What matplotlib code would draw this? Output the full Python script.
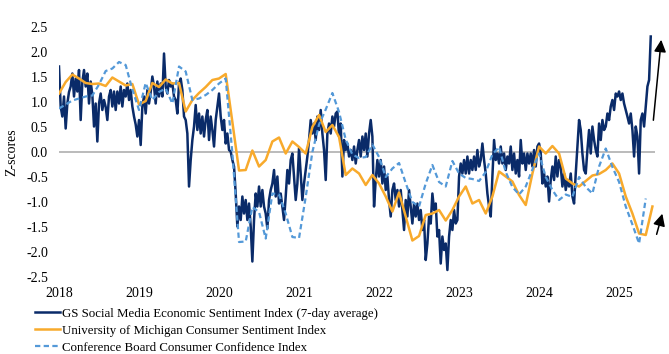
import numpy as np
import matplotlib
matplotlib.use("Agg")
import matplotlib.pyplot as plt

# GS social media index, read every quarter month from Jan 2018
gs_index = [
    1.71, 0.91, 0.71, 1.11, 0.47, 0.97, 1.20, 1.31, 1.57, 1.11, 1.47, 1.21,
    1.64, 0.64, 1.40, 1.64, 1.31, 1.57, 0.97, 1.41, 1.14, 0.51, 0.97, 0.21,
    0.97, 1.17, 0.84, 1.04, 0.90, 0.64, 1.11, 1.24, 0.91, 1.21, 0.84, 1.21,
    0.97, 1.31, 0.91, 1.24, 1.11, 1.37, 1.04, 1.24, 0.91, 0.71, 0.55, 0.31,
    0.64, 0.14, 0.91, 1.11, 0.77, 1.24, 0.97, 1.20, 1.51, 1.31, 0.97, 1.41,
    1.11, 1.37, 1.11, 1.97, 1.31, 1.17, 1.44, 1.31, 1.37, 1.11, 1.04, 0.77,
    1.37, 1.47, 1.24, 0.71, 0.64, 0.37, -0.69, -0.16, 0.24, 0.51, 0.94, 0.44,
    0.77, 0.37, 0.71, 0.31, 0.64, 0.84, 0.24, 0.71, 0.44, 0.11, 0.64, 0.91,
    1.17, 0.71, 0.44, 0.64, 0.17, 0.37, 0.04, 0.01, -0.16, -0.29, -0.83, -1.49,
    -1.09, -1.36, -0.89, -1.23, -0.96, -1.36, -1.03, -1.49, -2.19, -1.36, -0.83, -1.09,
    -0.69, -1.09, -0.76, -1.09, -1.23, -1.53, -0.96, -0.76, -0.63, -0.36, -0.89, -0.49,
    -1.03, -0.83, -1.09, -1.36, -0.89, -0.36, -0.63, -0.16, -0.03, -0.49, -0.96, -0.63,
    0.08, -0.43, -0.96, -0.63, -0.36, -0.09, 0.24, 0.64, 0.37, 0.57, 0.24, 0.71,
    0.44, 0.84, 0.37, 0.04, -0.56, 0.37, 0.57, 0.37, 0.71, 0.51, 0.77, 0.81,
    0.31, 0.57, -0.49, 0.24, 0.04, 0.17, -0.09, 0.04, -0.16, 0.11, -0.23, 0.04,
    0.24, -0.09, 0.31, 0.04, 0.37, -0.09, 0.37, 0.64, 0.31, -1.09, -0.56, -0.16,
    -0.49, -0.16, -0.63, -0.29, -0.76, -0.49, -0.96, -1.29, -0.76, -0.63, -0.96, -0.76,
    -1.09, -0.76, -1.16, -1.56, -0.96, -1.29, -0.76, -1.09, -1.43, -1.03, -1.29, -1.03,
    -1.36, -1.16, -1.56, -1.36, -2.16, -1.83, -1.29, -1.43, -0.83, -1.16, -1.03, -1.69,
    -1.56, -2.23, -1.69, -1.96, -1.83, -2.36, -1.69, -1.36, -1.56, -1.16, -1.43, -1.36,
    -0.49, -0.23, -0.43, -0.16, -0.43, -0.09, -0.43, -0.16, -0.36, -0.09, -0.36, 0.04,
    -0.29, -0.16, 0.17, -0.16, -0.43, -0.83, -1.09, -1.29, -0.49, 0.24, -0.16, -0.03,
    -0.23, 0.11, -0.23, -0.03, -0.36, -0.09, -0.23, 0.11, -0.36, -0.03, -0.43, -0.16,
    -0.49, 0.24, -0.23, -0.03, -0.36, -0.03, -0.23, -0.03, -0.29, 0.04, -0.29, 0.11,
    0.17, -0.03, -0.63, -0.43, -0.69, -0.49, -0.99, -0.56, -0.29, -0.56, -0.09, -0.49,
    -0.16, -0.29, -0.69, -0.43, -0.76, -0.56, -0.69, -0.43, -0.89, -1.03, -0.43, 0.11,
    0.64, 0.44, -0.03, -0.36, -0.43, 0.04, 0.44, -0.03, 0.51, 0.24, 0.04, -0.09,
    0.57, 0.24, 0.64, 0.44, 0.51, 0.77, 0.64, 0.91, 1.04, 0.84, 1.17, 1.11,
    1.21, 1.04, 1.17, 0.97, 0.84, 0.71, 0.57, 0.77, 0.44, -0.09, 0.51, 0.31,
    -0.43, 0.64, 0.77, 0.51, 0.91, 1.31, 1.44, 2.31,
]

# University of Michigan, monthly from Jan 2018
umich = [
    1.17, 1.40, 1.55, 1.47, 1.38, 1.36, 1.37, 1.32, 1.49, 1.41, 1.33, 1.36,
    0.95, 1.02, 1.38, 1.30, 1.45, 1.37, 1.38, 0.81, 1.04, 1.18, 1.30, 1.44,
    1.47, 1.56, 0.60, -0.37, -0.36, 0.03, -0.29, -0.16, 0.21, 0.29, -0.03, 0.21,
    0.10, -0.03, 0.50, 0.74, 0.40, 0.54, 0.30, -0.46, -0.33, -0.43, -0.66, -0.46,
    -0.63, -0.89, -1.19, -0.81, -1.29, -1.77, -1.68, -1.26, -1.23, -1.16, -1.37, -1.16,
    -0.89, -0.69, -1.03, -0.96, -1.23, -0.89, -0.39, -0.49, -0.59, -0.86, -1.06, -0.43,
    0.11, -0.03, 0.12, -0.03, -0.53, -0.63, -0.69, -0.58, -0.47, -0.44, -0.36, -0.23,
    -0.43, -0.89, -1.23, -1.63, -1.66, -1.09,
]

# Conference Board, monthly from Jan 2018
conf_board = [
    0.87, 0.95, 1.03, 1.07, 1.11, 1.13, 1.35, 1.62, 1.67, 1.80, 1.74, 1.25,
    0.84, 1.38, 1.04, 1.20, 1.27, 0.97, 1.71, 1.61, 1.04, 1.07, 1.14, 1.24,
    1.37, 1.47, -0.03, -1.80, -1.79, -1.10, -1.20, -1.73, -0.83, -0.85, -1.23, -1.70,
    -1.72, -0.90, 0.00, 0.55, 0.85, 1.18, 0.80, 0.25, -0.05, -0.12, -0.10, 0.15,
    -0.10, -0.50, -0.33, -0.22, -0.62, -1.00, -1.09, -0.63, -0.26, -0.60, -0.69, -0.18,
    -0.43, -0.52, -0.54, -0.58, -0.40, -0.05, 0.10, -0.40, -0.70, -0.85, -0.69, -0.35,
    -0.03, -0.50, -0.76, -0.96, -0.85, -0.90, -0.50, -0.70, -0.83, -0.29, 0.07, -0.30,
    -0.60, -1.09, -1.45, -1.83, -0.93,
]

years = [2018, 2019, 2020, 2021, 2022, 2023, 2024, 2025]
yticks = [2.5, 2.0, 1.5, 1.0, 0.5, 0.0, -0.5, -1.0, -1.5, -2.0, -2.5]

labels = [
    "GS Social Media Economic Sentiment Index (7-day average)",
    "University of Michigan Consumer Sentiment Index",
    "Conference Board Consumer Confidence Index",
]

NAVY = "#0a2b69"
ORANGE = "#f8aa2c"
LIGHT_BLUE = "#5499d8"

plt.rcParams["font.family"] = ["Liberation Serif", "DejaVu Serif"]
plt.rcParams["font.size"] = 10

gs_x = 2018 + np.arange(len(gs_index)) / 48
um_x = 2018 + np.arange(len(umich)) / 12
cb_x = 2018 + np.arange(len(conf_board)) / 12

fig = plt.figure(figsize=(6.69, 3.54), dpi=100)
ax = fig.add_axes([0.0882, 0.2175, 0.891, 0.7062])

ax.axhline(0, color="#a8a8a8", lw=1.1, zorder=1)
l1, = ax.plot(gs_x, gs_index, color=NAVY, lw=1.8, zorder=3)
l2, = ax.plot(um_x, umich, color=ORANGE, lw=1.8, zorder=4)
l3, = ax.plot(cb_x, conf_board, color=LIGHT_BLUE, lw=1.6, dashes=(2.4, 1.5), zorder=5)

ax.set_xlim(2018, 2025.45)
ax.set_ylim(-2.5, 2.5)
ax.set_xticks(years)
ax.set_xticklabels([str(y) for y in years])
ax.set_yticks(yticks)
ax.set_yticklabels([f"{v:.1f}" for v in yticks])
ax.tick_params(length=0, labelsize=10)
ax.tick_params(axis="y", pad=8)
ax.tick_params(axis="x", pad=7)
for s in ax.spines.values():
    s.set_visible(False)

# arrows at the right edge
arrow = dict(arrowstyle="-|>", color="black", lw=1.1, mutation_scale=18)
ax.annotate("", xy=(2025.53, 2.30), xytext=(2025.425, 0.58),
            arrowprops=arrow, annotation_clip=False)
ax.annotate("", xy=(2025.55, -1.18), xytext=(2025.46, -1.70),
            arrowprops=arrow, annotation_clip=False)

fig.text(12 / 669, 0.571, "Z-scores", rotation=90, ha="center", va="center",
         fontsize=10)

fig.legend([l1, l2, l3], labels, loc="upper left",
           bbox_to_anchor=(35 / 669, 0.131), frameon=False,
           handlelength=1.9, handletextpad=0.2, labelspacing=0.38,
           borderpad=0, borderaxespad=0, fontsize=9.3)

fig.savefig("out.png", dpi=100)
